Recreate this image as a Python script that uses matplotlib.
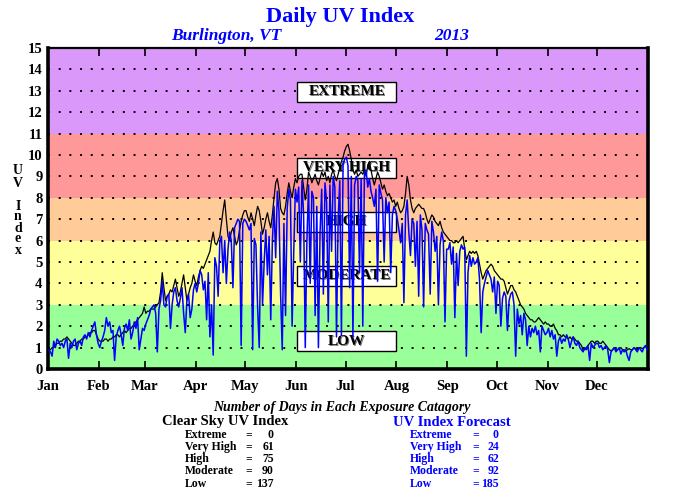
import numpy as np
import matplotlib
matplotlib.use("Agg")
import matplotlib.pyplot as plt
from matplotlib.patches import Rectangle

# ---------------- data ----------------
months = ["Jan", "Feb", "Mar", "Apr", "May", "Jun", "Jul", "Aug", "Sep", "Oct", "Nov", "Dec"]
month_start = [0, 31, 59, 90, 120, 151, 181, 212, 243, 273, 304, 334]

clear_jan = [0.9,0.9,1.0,1.0,1.1,1.2,1.2,1.3,1.3,1.4,1.4,1.5,1.4,1.3,1.2,1.1,1.1,1.2,1.3,1.3,1.4,1.4,1.5,1.5,1.6,1.7,1.7,1.8,1.8,1.6,1.4]
clear_feb = [1.3,1.3,1.3,1.4,1.4,1.3,1.4,1.4,1.5,1.5,1.6,1.6,1.5,1.6,1.7,1.8,1.7,1.8,1.9,1.9,2.0,2.1,2.2,2.3,2.4,2.5,2.6,2.9]
clear_mar = [2.6,2.7,2.7,2.8,2.8,2.8,2.9,3.0,3.1,3.6,4.5,3.8,3.2,3.4,3.5,3.7,3.6,3.9,4.2,3.8,3.4,3.6,4.0,4.4,3.8,3.2,3.5,3.8,4.0,4.4,4.1]
clear_apr = [3.9,4.3,4.6,4.8,4.7,4.9,5.1,5.3,5.5,6.0,6.4,5.9,5.8,6.0,6.2,6.8,7.4,7.9,7.0,6.2,6.0,6.4,6.6,6.2,5.8,6.0,6.5,6.9,7.2,7.4]
clear_may = [7.4,7.1,6.9,7.3,7.0,6.7,7.2,7.6,7.4,6.9,6.3,6.6,7.0,7.3,6.9,6.6,7.2,8.0,8.7,8.9,8.4,7.5,7.3,7.2,7.6,8.2,8.7,8.3,8.0,8.5,8.9]
clear_jun = [8.7,9.0,9.1,9.1,8.5,7.9,8.4,9.2,9.0,8.7,8.9,9.1,8.8,8.6,8.9,9.2,9.0,9.2,8.8,9.0,8.7,9.1,9.3,9.0,8.8,9.1,9.4,9.7,9.9,10.2]
clear_jul = [10.4,10.5,10.2,9.8,9.3,9.1,9.3,9.0,9.1,9.2,9.1,9.3,9.0,9.5,9.7,9.3,8.9,8.6,8.9,9.2,9.0,8.7,8.4,8.6,8.3,8.1,8.2,8.0,7.8,7.9,7.6]
clear_aug = [7.8,7.5,7.3,7.4,7.6,8.2,9.0,8.6,7.9,7.5,7.3,7.5,7.6,7.7,7.6,7.5,7.5,7.3,7.0,6.8,7.0,7.2,7.1,6.9,6.8,6.7,6.9,6.6,6.4,6.3,6.2]
clear_sep = [6.1,6.0,6.0,5.9,5.9,6.0,5.9,6.0,6.1,6.2,5.6,5.1,5.3,5.5,5.4,5.5,5.4,5.5,5.3,4.9,4.5,4.2,4.4,4.6,4.7,4.8,4.9,4.8,4.6,4.5]
clear_oct = [4.4,4.3,4.2,4.2,4.1,3.8,3.5,3.7,3.9,3.9,3.7,3.6,3.4,3.2,3.0,2.9,2.8,2.6,2.5,2.4,2.3,2.3,2.2,2.2,2.3,2.4,2.3,2.2,2.1,2.2,2.1]
clear_nov = [2.1,2.0,2.0,2.1,1.9,1.8,1.6,1.6,1.5,1.6,1.5,1.5,1.4,1.5,1.4,1.5,1.4,1.3,1.3,1.2,1.1,0.9,0.9,1.0,1.1,1.2,1.3,1.3,1.2,1.3]
clear_dec = [1.3,1.2,1.2,1.3,1.2,1.1,1.0,0.9,0.85,0.9,1.0,0.9,0.9,0.95,1.0,0.9,0.9,0.85,0.9,0.95,0.9,0.9,1.0,0.95,0.9,1.0,1.0,0.95,1.0,1.05,1.0]

fcst_jan = [0.9,0.8,0.6,1.3,1.0,1.4,1.3,1.1,1.2,1.0,1.3,1.4,0.5,1.2,1.0,1.3,1.4,0.9,1.2,1.3,1.1,1.5,1.6,1.4,1.7,1.5,1.8,2.0,2.2,1.6,1.2]
fcst_feb = [1.0,1.3,1.5,1.8,2.4,2.0,2.2,1.7,1.8,0.4,1.5,1.8,2.0,1.6,1.1,1.9,2.1,1.8,2.3,1.4,1.7,2.2,1.9,2.4,0.9,1.4,1.9,1.8]
fcst_mar = [2.1,2.3,2.5,2.8,2.9,3.0,2.6,0.8,2.8,3.2,4.1,3.0,2.9,3.4,3.5,1.9,3.0,3.6,3.8,3.2,2.9,3.3,3.8,2.6,1.7,3.2,3.5,2.4,2.8,3.7,4.0]
fcst_apr = [3.6,4.0,4.6,4.4,3.7,4.1,2.3,4.5,1.5,3.0,0.65,5.2,4.8,3.4,5.9,6.2,4.5,6.0,4.0,5.6,6.4,6.0,3.8,6.6,6.8,7.0,6.9,1.1,6.8,7.0]
fcst_may = [6.9,6.7,6.5,6.8,0.9,6.1,5.8,2.9,1.0,6.4,3.0,5.0,6.5,4.4,6.2,2.3,6.0,7.6,5.2,8.3,7.4,3.5,0.9,6.8,2.5,7.5,8.4,7.9,2.0,5.5,8.4]
fcst_jun = [7.8,8.5,5.0,8.8,7.2,1.0,6.0,8.6,4.0,8.3,8.0,2.5,7.6,1.0,6.4,8.4,3.5,8.7,7.8,2.2,8.6,5.5,9.0,8.5,1.5,7.0,8.8,1.6,9.6,9.8]
fcst_jul = [9.9,9.5,3.8,9.0,1.5,8.6,9.0,8.8,4.5,8.9,2.0,9.2,9.3,8.5,8.9,8.3,8.0,7.6,8.4,4.1,8.6,8.2,7.9,5.0,8.0,7.3,7.8,4.5,7.2,7.6,7.4]
fcst_aug = [7.0,6.5,5.9,6.8,3.1,7.2,7.9,6.4,5.3,7.0,6.8,4.8,6.9,3.4,7.2,6.5,2.9,6.8,6.5,6.3,3.5,6.9,6.4,5.5,6.2,3.0,5.8,6.4,6.0,2.2,5.6]
fcst_sep = [5.6,5.9,4.9,5.7,2.4,5.4,3.9,5.5,5.8,5.6,5.7,0.6,4.5,5.3,4.8,5.2,4.9,5.0,5.2,4.2,1.7,3.6,4.0,4.3,4.6,4.4,4.2,3.6,4.3,2.6]
fcst_oct = [4.1,3.9,2.0,3.3,3.6,3.4,1.8,3.2,3.5,3.6,3.0,0.6,2.8,2.1,2.5,1.6,2.6,2.3,1.1,2.0,1.5,1.9,1.7,2.0,1.6,1.8,0.8,2.0,1.8,1.6,1.7]
fcst_nov = [1.9,1.5,1.8,1.4,1.6,0.6,1.3,1.5,1.2,1.4,1.3,1.6,1.4,1.0,1.3,1.5,1.2,1.1,1.3,1.0,0.9,0.8,1.0,0.9,1.1,0.4,1.2,1.0,1.1,1.2]
fcst_dec = [1.2,1.0,1.1,0.9,1.0,1.1,0.9,0.3,0.8,0.9,1.0,0.8,0.9,1.0,0.7,0.9,0.8,0.9,0.6,0.4,0.8,0.9,1.0,0.9,0.8,1.0,0.9,0.8,1.0,1.1,0.9]

clear_sky = (clear_jan + clear_feb + clear_mar + clear_apr + clear_may + clear_jun +
             clear_jul + clear_aug + clear_sep + clear_oct + clear_nov + clear_dec)
forecast = (fcst_jan + fcst_feb + fcst_mar + fcst_apr + fcst_may + fcst_jun +
            fcst_jul + fcst_aug + fcst_sep + fcst_oct + fcst_nov + fcst_dec)

band_edges = [0, 3, 6, 8, 11, 15]
band_colors = ["#99FF99", "#FFFF99", "#FFCC99", "#FF9999", "#DA99FA"]
category_labels = ["LOW", "MODERATE", "HIGH", "VERY HIGH", "EXTREME"]
category_y = [1.3, 4.35, 6.87, 9.4, 12.95]

count_names = ["Extreme", "Very High", "High", "Moderate", "Low"]
clear_counts = [0, 61, 75, 90, 137]
fcst_counts = [0, 24, 62, 92, 185]

# ---------------- figure ----------------
SERIF = ["Liberation Serif", "DejaVu Serif"]
plt.rcParams["font.family"] = SERIF

fig = plt.figure(figsize=(6.8, 5.0), dpi=100)
ax = fig.add_axes([48 / 680, 1 - 369 / 500, 600 / 680, 321 / 500])

for lo, hi, c in zip(band_edges[:-1], band_edges[1:], band_colors):
    ax.axhspan(lo, hi, color=c, zorder=0, lw=0)

for yv in range(1, 15):
    ax.axhline(yv, color="black", lw=1.4, ls=(0, (1, 4.5)), zorder=1)

# category boxes
box_x0, box_x1 = 151.5, 212.0
box_h = 0.93
for lab, yc in zip(category_labels, category_y):
    ax.add_patch(Rectangle((box_x0, yc - box_h / 2), box_x1 - box_x0, box_h,
                           facecolor="white", edgecolor="black", lw=1.0, zorder=2))
    ax.text((box_x0 + box_x1) / 2 + 0.6, yc - 0.04, lab, ha="center", va="center",
            fontsize=11, fontweight="bold", color="#777777", zorder=3)
    ax.text((box_x0 + box_x1) / 2, yc, lab, ha="center", va="center",
            fontsize=11, fontweight="bold", color="black", zorder=3)

days_c = np.arange(len(clear_sky)) + 0.5
days_f = np.arange(len(forecast)) + 0.5
ax.plot(days_c, clear_sky, color="black", lw=0.9, zorder=4)
ax.plot(days_f, forecast, color="#0000FF", lw=1.1, zorder=5)

ax.set_xlim(0, 365)
ax.set_ylim(0, 15)
ax.set_yticks(range(0, 16))
ax.set_yticklabels([str(i) for i in range(0, 16)], fontsize=10.5, fontweight="bold")
ax.set_xticks(month_start)
ax.set_xticklabels(months, fontsize=10.5, fontweight="bold")
ax.tick_params(axis="y", length=0, pad=4)
ax.tick_params(axis="x", direction="in", length=6, width=1.2, top=True, bottom=True, pad=8)
for s in ["left", "bottom", "right"]:
    ax.spines[s].set_linewidth(2.6)
ax.spines["top"].set_linewidth(1.6)

# y label stacked
fig.text(18 / 680, 1 - 177 / 500, "U\nV", ha="center", va="center", fontsize=10,
         fontweight="bold", linespacing=0.95)
fig.text(18 / 680, 1 - 228 / 500, "I\nn\nd\ne\nx", ha="center", va="center", fontsize=10,
         fontweight="bold", linespacing=0.8)

# titles
fig.text(340 / 680, 1 - 17 / 500, "Daily UV Index", ha="center", va="center",
         fontsize=16, fontweight="bold", color="#0000FF")
fig.text(226 / 680, 1 - 36 / 500, "Burlington, VT", ha="center", va="center",
         fontsize=12.5, fontweight="bold", style="italic", color="#0000FF")
fig.text(452 / 680, 1 - 36 / 500, "2013", ha="center", va="center",
         fontsize=12.5, fontweight="bold", style="italic", color="#0000FF")

# bottom summary
fig.text(342 / 680, 1 - 408 / 500, "Number of Days in Each Exposure Catagory",
         ha="center", va="center", fontsize=10, fontweight="bold", style="italic")
fig.text(225 / 680, 1 - 422 / 500, "Clear Sky UV Index", ha="center", va="center",
         fontsize=10.5, fontweight="bold", color="black")
fig.text(452 / 680, 1 - 422 / 500, "UV Index Forecast", ha="center", va="center",
         fontsize=10.5, fontweight="bold", color="#0000FF")

row_y = [435, 447, 459, 471, 484]
for name, cv, fv, yy in zip(count_names, clear_counts, fcst_counts, row_y):
    y = 1 - yy / 500
    fig.text(185 / 680, y, name, ha="left", va="center", fontsize=8.5, fontweight="bold")
    fig.text(249 / 680, y, "=", ha="center", va="center", fontsize=8.5, fontweight="bold")
    fig.text(274 / 680, y, str(cv), ha="right", va="center", fontsize=8.5, fontweight="bold")
    fig.text(410 / 680, y, name, ha="left", va="center", fontsize=8.5, fontweight="bold",
             color="#0000FF")
    fig.text(476 / 680, y, "=", ha="center", va="center", fontsize=8.5, fontweight="bold",
             color="#0000FF")
    fig.text(499 / 680, y, str(fv), ha="right", va="center", fontsize=8.5, fontweight="bold",
             color="#0000FF")

fig.savefig("out.png", dpi=100, facecolor="white")
